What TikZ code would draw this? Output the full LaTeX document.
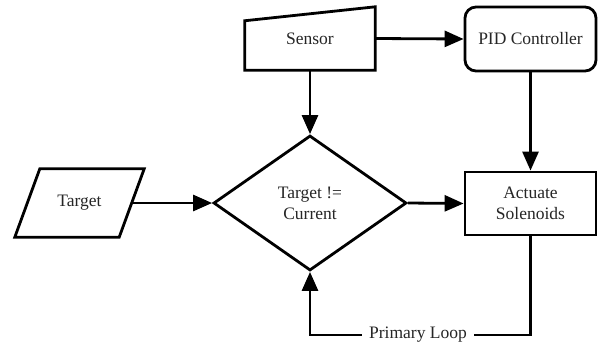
\documentclass[tikz,border=0pt]{standalone}
\usepackage{fontspec}
\setmainfont{Liberation Serif}
\usetikzlibrary{arrows.meta,shapes.geometric,calc}
\begin{document}
\begin{tikzpicture}[x=1pt,y=-1pt,
  every node/.style={font=\fontsize{17.5}{21}\selectfont, text=black!85, align=center},
  ln/.style={line width=2.8pt, draw=black},
  arr/.style={ln, -{Triangle[length=19pt,width=16pt]}},
  boxnode/.style={rectangle, minimum width=#1, inner sep=0pt},
]
\useasboundingbox[fill=white] (0,0) rectangle (600,349);
% Sensor (manual input)
\node[boxnode=130, minimum height=63] (sensor) at (310,38.5) {\raisebox{-6pt}{Sensor}};
\draw[ln, line join=miter] (sensor.south west) -- (sensor.south east) -- (sensor.north east)
  -- ($(sensor.north west)!0.22!(sensor.south west)$) -- cycle;
% PID Controller
\node[boxnode=131, minimum height=64, draw, ln, rounded corners=11pt] (pid) at (530.5,39) {PID Controller};
% Target (data)
\node[boxnode=104, minimum height=68] (target) at (79.5,203) {Target};
\draw[ln, line join=miter] ([xshift=12.5pt]target.north west) -- ([xshift=12.5pt]target.north east)
  -- ([xshift=-12.5pt]target.south east) -- ([xshift=-12.5pt]target.south west) -- cycle;
% Decision
\node[diamond, draw, ln, minimum width=193, minimum height=135, aspect=1.43, inner sep=0pt] (dia) at (310,203) {Target !=\\Current};
% Actuate
\node[boxnode=131, minimum height=63, draw, ln] (act) at (530.5,203.5) {Actuate\\Solenoids};
% connectors
\draw[arr] (sensor.south) -- (dia.north);
\draw[arr] (sensor.east) -- (pid.west);
\draw[arr] (pid.south) -- (act.north);
\draw[arr] (target.east) -- (dia.west);
\draw[arr] (dia.east) -- (act.west);
\coordinate (lc) at (418,335);
\draw[arr] (act.south) |- (lc) -| (dia.south);
\node[fill=white, inner xsep=7pt, inner ysep=2pt] (loop) at (lc) {Primary Loop};
\end{tikzpicture}
\end{document}
